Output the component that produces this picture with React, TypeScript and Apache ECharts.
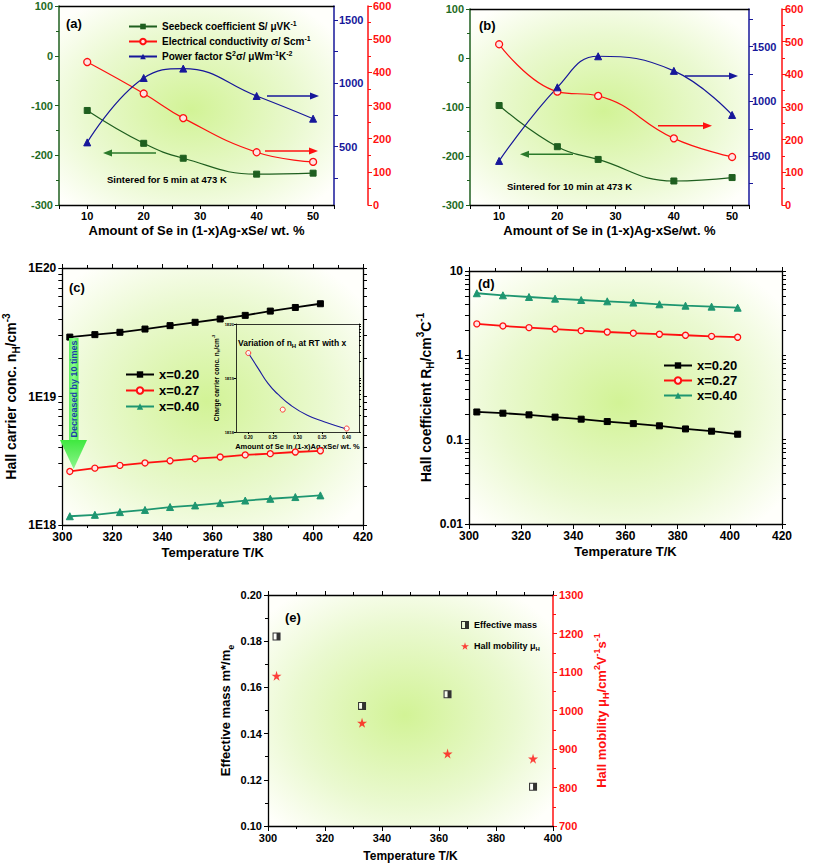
import React, { useEffect, useRef } from 'react';
import * as echarts from 'echarts';

// ---------- data ----------
const seContent = [10, 20, 27, 40, 50];
const seebeckA = [-110, -176, -206, -238, -236];
const sigmaA = [431, 336, 262, 159, 130];
const pfA = [534, 1042, 1116, 900, 721];
const seebeckB = [-97, -181, -207, -251, -244];
const sigmaB = [492, 347, 334, 204, 147];
const pfB = [457, 1128, 1411, 1278, 876];
const pfTickLabels = [500, 1000, 1500];
const pfTicks = [250, 500, 750, 1000, 1250, 1500, 1750];

const temps = [303, 313, 323, 333, 343, 353, 363, 373, 383, 393, 403];
const nH020 = [2.9e19, 3.03e19, 3.16e19, 3.35e19, 3.56e19, 3.78e19, 4.01e19, 4.28e19, 4.62e19, 4.93e19, 5.27e19];
const nH027 = [2.61e18, 2.77e18, 2.91e18, 3.04e18, 3.16e18, 3.28e18, 3.38e18, 3.51e18, 3.59e18, 3.7e18, 3.78e18];
const nH040 = [1.17e18, 1.2e18, 1.26e18, 1.31e18, 1.38e18, 1.42e18, 1.48e18, 1.55e18, 1.6e18, 1.65e18, 1.7e18];
const rH020 = [0.213, 0.206, 0.197, 0.185, 0.175, 0.164, 0.155, 0.146, 0.134, 0.126, 0.116];
const rH027 = [2.36, 2.23, 2.13, 2.05, 1.96, 1.89, 1.83, 1.78, 1.73, 1.68, 1.64];
const rH040 = [5.45, 5.15, 4.92, 4.7, 4.53, 4.37, 4.22, 4.03, 3.88, 3.78, 3.67];

const insetX = [0.2, 0.27, 0.4];
const insetN = [2.9e19, 2.6e18, 1.16e18];
const fitX = [0.2, 0.22, 0.24, 0.26, 0.287, 0.32, 0.354, 0.398];
const fitN = [2.9e19, 1.51e19, 7.94e18, 5.01e18, 3.09e18, 2.04e18, 1.55e18, 1.15e18];
const insetTicks = [0.2, 0.25, 0.3, 0.35, 0.4];

const emTemps = [303, 333, 363, 393];
const effMass = [0.182, 0.152, 0.157, 0.117];
const hallMob = [1090, 968, 888, 875];

const xNames = ['x=0.20', 'x=0.27', 'x=0.40'];
const nameS = 'Seebeck coefficient S/ μVK-1';
const nameSig = 'Electrical conductivity σ/ Scm-1';
const namePF = 'Power factor S2σ/ μWm-1K-2';

// ---------- helpers ----------
const F = "'Liberation Sans', Arial, Helvetica, sans-serif";
const zip = (xs: number[], ys: number[]) => xs.map((x, i) => [x, ys[i]]);
const plain = (v: number) => String(v);
const lbl = (size: number, color = '#000') => ({ fontFamily: F, fontWeight: 'bold', fontSize: size, color });
const richFor = (size: number, color = '#000') => ({
  sup: { fontFamily: F, fontWeight: 'bold', fontSize: Math.round(size * 0.68), color, verticalAlign: 'top', lineHeight: size * 0.75 },
  sub: { fontFamily: F, fontWeight: 'bold', fontSize: Math.round(size * 0.68), color, verticalAlign: 'bottom', lineHeight: size * 0.75 },
});
const nameStyle = (size: number, color = '#000') => ({ ...lbl(size, color), lineHeight: size * 1.45, rich: richFor(size, color) });
const aLine = (c: string, w = 1.3) => ({ show: true, onZero: false, lineStyle: { color: c, width: w } });
const aTick = (c: string, len = 4, extra: any = {}) => ({ show: true, length: len, lineStyle: { color: c, width: 1 }, ...extra });
const noSplit = { show: false };
const logMinor = (lo: number, hi: number) => {
  const out: number[] = [];
  for (let e = lo; e < hi; e++) for (let m = 1; m < 10; m++) out.push(Number((m * Math.pow(10, e)).toPrecision(3)));
  out.push(Math.pow(10, hi));
  return out;
};
const bg = () =>
  new echarts.graphic.RadialGradient(0.48, 0.52, 0.65, [
    { offset: 0, color: '#d2f396' },
    { offset: 0.6, color: '#eaf9d0' },
    { offset: 1, color: '#fffffb' },
  ]);
const expLabel = (v: number) => '1E' + Math.round(Math.log10(v));
const decLabel = (v: number) => {
  const e = Math.round(Math.log10(v));
  return e >= 0 ? String(Math.pow(10, e)) : Math.pow(10, e).toFixed(-e);
};

const green = '#1f5f1f';
const greenLbl = '#236b23';
const navy = '#17179a';
const red = '#ff1010';
const teal = '#1e9670';

function arrow(x1: number, x2: number, y: number, color: string) {
  const dir = x2 > x1 ? 1 : -1;
  const hx = x2 - dir * 9;
  return [
    { type: 'line', z: 100, shape: { x1, y1: y, x2: hx, y2: y }, style: { stroke: color, lineWidth: 1.6 } },
    { type: 'polygon', z: 100, shape: { points: [[x2, y], [hx, y - 3.5], [hx, y + 3.5]] }, style: { fill: color } },
  ];
}
const txt = (x: number, y: number, text: string, size: number, extra: any = {}) => ({
  type: 'text', z: 100, x, y,
  style: { text, fontFamily: F, fontWeight: 'bold', fontSize: size, fill: '#000', verticalAlign: 'middle', align: 'left', ...extra },
});

function buildOption(): any {
  const grids = [
    { left: 59, top: 6, width: 275, height: 199 },
    { left: 470, top: 9, width: 279, height: 196 },
    { left: 57, top: 268, width: 306, height: 257 },
    { left: 469, top: 271, width: 313, height: 253 },
    { left: 268, top: 595, width: 285, height: 231 },
    { left: 236, top: 324, width: 123, height: 108 },
  ].map((g, i) => ({ ...g, show: true, borderWidth: 0, backgroundColor: i === 5 ? 'transparent' : bg(), z: 0 }));

  const topAxis = (gi: number, min: number, max: number, ticks: boolean, extra: any = {}) => ({
    gridIndex: gi, type: 'value', position: 'top', min, max,
    axisLine: aLine('#000'), axisTick: ticks ? aTick('#000') : { show: false },
    axisLabel: { show: false }, splitLine: noSplit, ...extra,
  });

  const seAxis = (gi: number, max: number, name: string) => ({
    gridIndex: gi, type: 'value', min: 5, max, interval: 5,
    axisLine: aLine('#000'), axisTick: aTick('#000'),
    axisLabel: { ...lbl(11), margin: 5, formatter: (v: number) => (v % 10 === 0 ? String(v) : '') },
    splitLine: noSplit, name, nameLocation: 'middle', nameGap: 19, nameTextStyle: lbl(13),
  });
  const tAxis = (gi: number, max: number, size: number, gap: number) => ({
    gridIndex: gi, type: 'value', min: 300, max, interval: 20,
    axisLine: aLine('#000'), axisTick: aTick('#000', 5),
    minorTick: { show: true, splitNumber: 2, length: 3, lineStyle: { color: '#000' } },
    axisLabel: { ...lbl(size), margin: 6, formatter: plain }, splitLine: noSplit,
    name: 'Temperature T/K', nameLocation: 'middle', nameGap: gap, nameTextStyle: lbl(size + 1),
  });

  const xAxis = [
    seAxis(0, 53.7, 'Amount of Se in (1-x)Ag-xSe/ wt. %'),
    topAxis(0, 5, 53.7, false),
    seAxis(1, 52.9, 'Amount of Se in (1-x)Ag-xSe/wt. %'),
    topAxis(1, 5, 52.9, false),
    tAxis(2, 420, 12, 21),
    topAxis(2, 300, 420, true, { interval: 20, minorTick: { show: true, splitNumber: 2, length: 3 } }),
    tAxis(3, 420, 12, 21),
    topAxis(3, 300, 420, true, { interval: 20, minorTick: { show: true, splitNumber: 2, length: 3 } }),
    tAxis(4, 400, 11, 24),
    topAxis(4, 300, 400, true, { interval: 20, minorTick: { show: true, splitNumber: 2, length: 3 } }),
    {
      gridIndex: 5, type: 'value', min: 0.175, max: 0.425,
      axisLine: aLine('#000', 0.8), axisTick: aTick('#000', 2, { customValues: insetTicks }),
      axisLabel: { ...lbl(4.5), margin: 3, customValues: insetTicks, formatter: (v: number) => v.toFixed(2) },
      splitLine: noSplit, name: 'Amount of Se in (1-x)Ag-xSe/ wt. %', nameLocation: 'middle', nameGap: 10,
      nameTextStyle: lbl(7.5),
    },
    topAxis(5, 0.175, 0.425, false, { axisLine: aLine('#000', 0.8) }),
  ];

  const yAxis = [
    // (a)
    {
      gridIndex: 0, type: 'value', min: -300, max: 100, interval: 100,
      axisLine: aLine(green, 1.5), axisTick: aTick(green),
      minorTick: { show: true, splitNumber: 2, length: 3, lineStyle: { color: green } },
      axisLabel: { ...lbl(11, greenLbl), margin: 6, formatter: plain }, splitLine: noSplit,
    },
    {
      gridIndex: 0, type: 'value', position: 'right', min: 40, max: 1610,
      axisLine: aLine(navy, 1.5), axisTick: aTick(navy, 4, { customValues: pfTicks.filter((v) => v < 1610) }),
      axisLabel: { ...lbl(11, navy), margin: 5, customValues: pfTickLabels, formatter: plain }, splitLine: noSplit,
    },
    {
      gridIndex: 0, type: 'value', position: 'right', offset: 34, min: 0, max: 600, interval: 100,
      axisLine: aLine(red, 1.5), axisTick: aTick(red),
      minorTick: { show: true, splitNumber: 2, length: 3, lineStyle: { color: red } },
      axisLabel: { ...lbl(11, red), margin: 5, formatter: plain }, splitLine: noSplit,
    },
    // (b)
    {
      gridIndex: 1, type: 'value', min: -300, max: 100, interval: 100,
      axisLine: aLine(green, 1.5), axisTick: aTick(green),
      minorTick: { show: true, splitNumber: 2, length: 3, lineStyle: { color: green } },
      axisLabel: { ...lbl(11, greenLbl), margin: 6, formatter: plain }, splitLine: noSplit,
    },
    {
      gridIndex: 1, type: 'value', position: 'right', min: 55, max: 1842,
      axisLine: aLine(navy, 1.5), axisTick: aTick(navy, 4, { customValues: pfTicks }),
      axisLabel: { ...lbl(11, navy), margin: 3, customValues: pfTickLabels, formatter: plain }, splitLine: noSplit,
    },
    {
      gridIndex: 1, type: 'value', position: 'right', offset: 33, min: 0, max: 600, interval: 100,
      axisLine: aLine(red, 1.5), axisTick: aTick(red),
      minorTick: { show: true, splitNumber: 2, length: 3, lineStyle: { color: red } },
      axisLabel: { ...lbl(11, red), margin: 3, formatter: plain }, splitLine: noSplit,
    },
    // (c)
    {
      gridIndex: 2, type: 'log', logBase: 10, min: 1e18, max: 1e20,
      axisLine: aLine('#000'), axisTick: aTick('#000', 4, { customValues: logMinor(18, 20) }),
      axisLabel: { ...lbl(12), margin: 6, formatter: expLabel }, splitLine: noSplit,
      name: 'Hall carrier conc. n{sub|H}/cm{sup|-3}', nameLocation: 'middle', nameRotate: 90, nameGap: 41,
      nameTextStyle: nameStyle(14),
    },
    {
      gridIndex: 2, type: 'log', logBase: 10, min: 1e18, max: 1e20, position: 'right',
      axisLine: aLine('#000'), axisTick: aTick('#000', 4, { customValues: logMinor(18, 20) }),
      axisLabel: { show: false }, splitLine: noSplit,
    },
    // (d)
    {
      gridIndex: 3, type: 'log', logBase: 10, min: 0.01, max: 10,
      axisLine: aLine('#000'), axisTick: aTick('#000', 4, { customValues: logMinor(-2, 1) }),
      axisLabel: { ...lbl(12), margin: 6, formatter: decLabel }, splitLine: noSplit,
      name: 'Hall coefficient R{sub|H}/cm{sup|3}C{sup|-1}', nameLocation: 'middle', nameRotate: 90, nameGap: 32,
      nameTextStyle: nameStyle(14),
    },
    {
      gridIndex: 3, type: 'log', logBase: 10, min: 0.01, max: 10, position: 'right',
      axisLine: aLine('#000'), axisTick: aTick('#000', 4, { customValues: logMinor(-2, 1) }),
      axisLabel: { show: false }, splitLine: noSplit,
    },
    // (e)
    {
      gridIndex: 4, type: 'value', min: 0.1, max: 0.2, interval: 0.02,
      axisLine: aLine('#000'), axisTick: aTick('#000'),
      minorTick: { show: true, splitNumber: 2, length: 3, lineStyle: { color: '#000' } },
      axisLabel: { ...lbl(11), margin: 6, formatter: (v: number) => v.toFixed(2) }, splitLine: noSplit,
      name: 'Effective mass m*/m{sub|e}', nameLocation: 'middle', nameRotate: 90, nameGap: 33,
      nameTextStyle: nameStyle(13),
    },
    {
      gridIndex: 4, type: 'value', position: 'right', min: 700, max: 1300, interval: 100,
      axisLine: aLine(red, 1.5), axisTick: aTick(red),
      minorTick: { show: true, splitNumber: 2, length: 3, lineStyle: { color: red } },
      axisLabel: { ...lbl(11, red), margin: 6, formatter: plain }, splitLine: noSplit,
      name: 'Hall mobility μ{sub|H}/cm{sup|2}V{sup|-1}s{sup|-1}', nameLocation: 'middle', nameRotate: 90, nameGap: 39,
      nameTextStyle: nameStyle(13, red),
    },
    // inset
    {
      gridIndex: 5, type: 'log', logBase: 10, min: 1e18, max: 1e20,
      axisLine: aLine('#000', 0.8), axisTick: aTick('#000', 2),
      axisLabel: { ...lbl(4), margin: 2, formatter: expLabel }, splitLine: noSplit,
      name: 'Charge carrier conc. n{sub|H}/cm{sup|-3}', nameLocation: 'middle', nameRotate: 90, nameGap: 9,
      nameTextStyle: nameStyle(6.5),
    },
    {
      gridIndex: 5, type: 'log', logBase: 10, min: 1e18, max: 1e20, position: 'right',
      axisLine: aLine('#000', 0.8), axisTick: aTick('#000', 2, { customValues: logMinor(18, 20) }),
      axisLabel: { show: false }, splitLine: noSplit,
    },
  ];

  const sLine = (name: string, xi: number, yi: number, data: any, color: string, symbol: string, size: number, smooth: any, hollow = false, w = 1.2) => ({
    name, type: 'line', xAxisIndex: xi, yAxisIndex: yi, data, smooth, symbol, symbolSize: size,
    lineStyle: { color, width: w },
    itemStyle: hollow ? { color: '#ffe4e4', borderColor: color, borderWidth: 1.3 } : { color, borderColor: color },
    z: 3,
  });

  const star = 'path://M50,0 L61,35 L98,35 L68,57 L79,91 L50,70 L21,91 L32,57 L2,35 L39,35 Z';
  const halfSq = 'path://M0,0 L10,0 L10,10 L0,10 Z M1.3,1.3 L1.3,8.7 L5,8.7 L5,1.3 Z';

  const series = [
    sLine(nameS, 0, 0, zip(seContent, seebeckA), green, 'rect', 6, 0.45),
    sLine(nameSig, 0, 2, zip(seContent, sigmaA), red, 'circle', 7, 0.45, true),
    sLine(namePF, 0, 1, zip(seContent, pfA), navy, 'triangle', 7, 0.45),
    sLine('b-seebeck', 2, 3, zip(seContent, seebeckB), green, 'rect', 6, 0.45),
    sLine('b-sigma', 2, 5, zip(seContent, sigmaB), red, 'circle', 7, 0.45, true),
    sLine('b-pf', 2, 4, zip(seContent, pfB), navy, 'triangle', 7, 0.45),
    sLine(xNames[0], 4, 6, zip(temps, nH020), '#000', 'rect', 6, false, false, 1.8),
    sLine(xNames[1], 4, 6, zip(temps, nH027), red, 'circle', 6, false, true, 1.8),
    sLine(xNames[2], 4, 6, zip(temps, nH040), teal, 'triangle', 7, false, false, 1.8),
    sLine(xNames[0], 6, 8, zip(temps, rH020), '#000', 'rect', 6, false, false, 1.8),
    sLine(xNames[1], 6, 8, zip(temps, rH027), red, 'circle', 6, false, true, 1.8),
    sLine(xNames[2], 6, 8, zip(temps, rH040), teal, 'triangle', 7, false, false, 1.8),
    {
      name: 'fit', type: 'line', xAxisIndex: 10, yAxisIndex: 12, data: zip(fitX, fitN), smooth: 0.5,
      symbol: 'none', lineStyle: { color: '#1a1aa0', width: 1.1 }, z: 3,
    },
    {
      name: 'insetPts', type: 'scatter', xAxisIndex: 10, yAxisIndex: 12, data: zip(insetX, insetN),
      symbol: 'circle', symbolSize: 5, itemStyle: { color: '#fff', borderColor: red, borderWidth: 1 }, z: 4,
    },
    {
      name: 'emBg', type: 'scatter', xAxisIndex: 8, yAxisIndex: 10, data: zip(emTemps, effMass),
      symbol: 'rect', symbolSize: 8, itemStyle: { color: '#fff' }, z: 3,
    },
    {
      name: 'Effective mass', type: 'scatter', xAxisIndex: 8, yAxisIndex: 10, data: zip(emTemps, effMass),
      symbol: halfSq, symbolSize: 8, itemStyle: { color: '#000' }, z: 4,
    },
    {
      name: 'Hall mobility μH', type: 'scatter', xAxisIndex: 8, yAxisIndex: 11, data: zip(emTemps, hallMob),
      symbol: star, symbolSize: 10, itemStyle: { color: red }, z: 4,
    },
  ];

  const legend = [
    {
      orient: 'vertical', left: 123, top: 15, itemWidth: 28, itemHeight: 7, itemGap: 2,
      data: [nameS, nameSig, namePF],
      formatter: (n: string) =>
        n === nameS ? 'Seebeck coefficient S/ μVK{sup|-1}'
          : n === nameSig ? 'Electrical conductivity σ/ Scm{sup|-1}'
            : 'Power factor S{sup|2}σ/ μWm{sup|-1}K{sup|-2}',
      textStyle: { ...lbl(10), lineHeight: 13, rich: richFor(10) },
    },
    {
      orient: 'vertical', left: 120, top: 363, itemWidth: 28, itemHeight: 8, itemGap: 3,
      data: xNames, textStyle: { ...lbl(13), lineHeight: 13 },
    },
    {
      orient: 'vertical', left: 658, top: 354, itemWidth: 28, itemHeight: 8, itemGap: 2,
      data: xNames, textStyle: { ...lbl(13), lineHeight: 13 },
    },
    {
      orient: 'vertical', left: 456, top: 614, itemWidth: 8, itemHeight: 8, itemGap: 9,
      data: ['Effective mass', 'Hall mobility μH'],
      formatter: (n: string) => (n === 'Effective mass' ? n : 'Hall mobility μ{sub|H}'),
      textStyle: { ...lbl(9), lineHeight: 12, rich: richFor(9) },
    },
  ];

  const graphic = [
    txt(66, 23, '(a)', 13),
    txt(107, 179, 'Sintered for 5 min at 473 K', 9.5),
    ...arrow(156, 103, 153, '#2b7a2b'),
    ...arrow(265, 318, 151, red),
    ...arrow(267, 319, 96, navy),
    txt(479, 25, '(b)', 13),
    txt(507, 186, 'Sintered for 10 min at 473 K', 9.5),
    ...arrow(685, 738, 76, navy),
    ...arrow(658, 712, 125.7, red),
    ...arrow(573, 520, 154.3, '#2b7a2b'),
    txt(69, 287, '(c)', 13),
    {
      type: 'rect', z: 100, shape: { x: 69, y: 338, width: 9.5, height: 103 },
      style: {
        fill: new echarts.graphic.LinearGradient(0, 0, 1, 0, [
          { offset: 0, color: '#5ef05e' }, { offset: 0.5, color: '#8dff8d' }, { offset: 1, color: '#4fe64f' },
        ]),
      },
    },
    {
      type: 'polygon', z: 100, shape: { points: [[60, 440], [87, 440], [73.7, 469]] },
      style: {
        fill: new echarts.graphic.LinearGradient(0, 0, 0, 1, [
          { offset: 0, color: '#3fe83f' }, { offset: 1, color: '#8cf58c' },
        ]),
      },
    },
    {
      type: 'text', z: 101, x: 74, y: 389, rotation: Math.PI / 2,
      style: { text: 'Decreased by 10 times', fontFamily: F, fontWeight: 'bold', fontSize: 9, fill: '#1c3fa8', align: 'center', verticalAlign: 'middle' },
    },
    {
      type: 'text', z: 100, x: 238, y: 343,
      style: {
        text: 'Variation of n{sub|H} at RT with x', fontFamily: F, fontWeight: 'bold', fontSize: 8.5, fill: '#000',
        verticalAlign: 'middle', align: 'left', lineHeight: 12, rich: richFor(8.5),
      },
    },
    txt(478, 283, '(d)', 13),
    txt(285, 617, '(e)', 13),
  ];

  return { animation: false, grid: grids, xAxis, yAxis, series, legend, graphic };
}

export default function App() {
  const ref = useRef<HTMLDivElement>(null);
  useEffect(() => {
    document.body.style.margin = '0';
    const chart = echarts.init(ref.current as HTMLDivElement, null, { renderer: 'svg' });
    chart.setOption(buildOption());
    return () => chart.dispose();
  }, []);
  return <div ref={ref} style={{ width: 813, height: 865, background: '#fff' }} />;
}
